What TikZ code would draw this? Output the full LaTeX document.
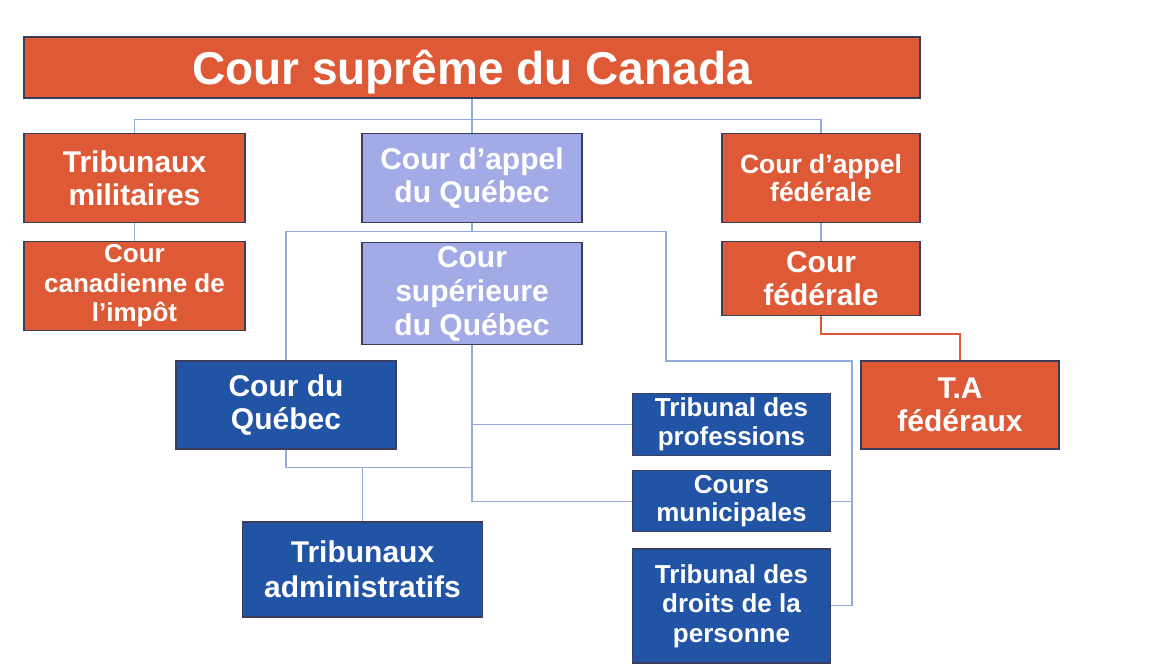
\documentclass[tikz,border=0pt]{standalone}
\usepackage{fontspec}
\setmainfont{Liberation Sans}
\usetikzlibrary{positioning}
\definecolor{courorange}{HTML}{DE5A36}
\definecolor{courpurple}{HTML}{A3ABE6}
\definecolor{courblue}{HTML}{2254A5}
\definecolor{boxline}{HTML}{3A3E5C}
\definecolor{linkblue}{HTML}{91ACDC}
\tikzset{
    base/.style={draw=boxline, line width=1.2pt, text=white, font=\bfseries\fontsize{30}{33}\selectfont, align=center, inner sep=0pt},
    orangebox/.style={base, rectangle, fill=courorange},
    purplebox/.style={base, rectangle, fill=courpurple},
    bluebox/.style={base, rectangle, fill=courblue},
    smalltext/.style={font=\bfseries\fontsize{26}{29.5}\selectfont},
    link/.style={draw=linkblue, line width=1.1pt},
    fedlink/.style={draw=courorange, line width=2pt}
}

\begin{document}
\begin{tikzpicture}[x=1pt, y=-1pt]
    \useasboundingbox (0,0) rectangle (1154,672);

    \node [orangebox, minimum width=896pt, minimum height=61pt, text depth=0pt, font=\bfseries\fontsize{46}{50}\selectfont] (Sup) at (472,67.5) {Cour suprême du Canada};

    \node [orangebox, minimum width=221pt, minimum height=89pt] (Mil) at (134.5,177.8) {Tribunaux\\militaires};
    \node [orangebox, smalltext, minimum width=221pt, minimum height=89pt, below=18pt of Mil] (Impot) {Cour\\canadienne de\\l’impôt};

    \node [purplebox, minimum width=220pt, minimum height=89pt] (CAQ) at (472,177.8) {Cour d’appel\\du Québec};
    \node [purplebox, minimum width=220pt, minimum height=102pt, below=19pt of CAQ, font=\bfseries\fontsize{30}{34}\selectfont] (CSQ) {Cour\\supérieure\\du Québec};

    \node [orangebox, minimum width=198pt, minimum height=89pt, font=\bfseries\fontsize{26.5}{28}\selectfont] (CAF) at (821,178) {Cour d’appel\\fédérale};
    \node [orangebox, minimum width=198pt, minimum height=74pt, below=18pt of CAF] (CF) {Cour\\fédérale};
    \node [orangebox, minimum width=198pt, minimum height=88pt] (TA) at (960,405) {T.A\\fédéraux};

    \node [bluebox, minimum width=220pt, minimum height=88pt] (CQ) at (286,405) {Cour du\\Québec};
    \node [bluebox, minimum width=240pt, minimum height=95pt, font=\bfseries\fontsize{30}{35}\selectfont] (Adm) at (362.5,569.5) {Tribunaux\\administratifs};

    \node [bluebox, smalltext, minimum width=198pt, minimum height=62pt] (Prof) at (731.5,424.5) {Tribunal des\\professions};
    \node [bluebox, smalltext, minimum width=198pt, minimum height=61pt, below=14pt of Prof, font=\bfseries\fontsize{26}{28}\selectfont] (Mun) {Cours\\municipales};
    \node [bluebox, smalltext, minimum width=198pt, minimum height=114pt, below=16pt of Mun] (Droits) {Tribunal des\\droits de la\\personne};

    \coordinate (JQ) at (666,361);
    \coordinate (JR) at (852,361);
    \coordinate (JC) at (472,467.5);

    % cour supreme
    \draw [link] (Sup.south) -- ++(0,21) -| (Mil.north);
    \draw [link] (Sup.south) -- ++(0,21) -| (CAF.north);
    \draw [link] (Sup.south) -- (CAQ.north);
    \draw [link] (Mil) -- (Impot);
    \draw [link] (CAF) -- (CF);
    \draw [fedlink] (CF.south) -- ++(0,18) -| (TA.north);

    % cour d'appel du Quebec
    \draw [link] (CAQ.south) -- ++(0,9) -| (CQ.north);
    \draw [link] (CAQ.south) -- ++(0,9) -| (JQ) -- (JR) |- (Droits.east);
    \draw [link] (Mun.east) -- (Mun.east -| JR);

    % cour superieure
    \draw [link] (CSQ.south) |- (Mun.west);
    \draw [link] (CSQ.south |- Prof.west) -- (Prof.west);
    \draw [link] (CQ.south) |- (JC);
    \draw [link] (Adm.north) -- (Adm.north |- JC);
\end{tikzpicture}
\end{document}
